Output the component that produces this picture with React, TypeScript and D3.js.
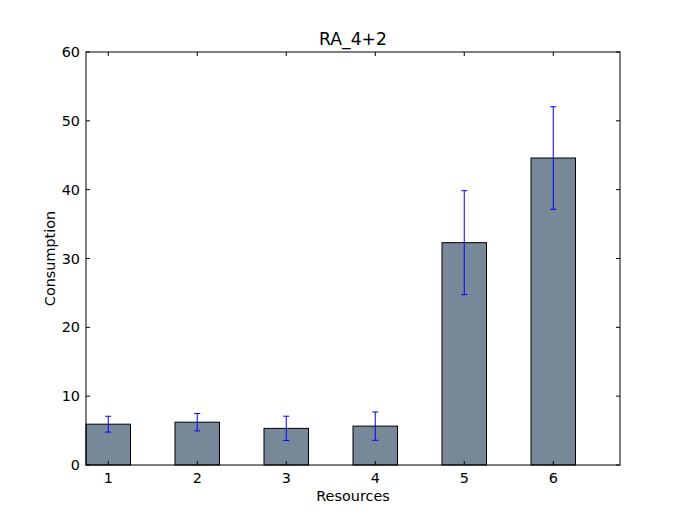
import React from "react";
import * as d3 from "d3";

const categories = [1, 2, 3, 4, 5, 6];
const values = [5.93, 6.22, 5.32, 5.65, 32.3, 44.6];
const errors = [1.15, 1.26, 1.77, 2.06, 7.55, 7.45];
const yTicks = [0, 10, 20, 30, 40, 50, 60];

const W = 689;
const H = 517;
const margin = { left: 86, right: 69, top: 52, bottom: 52 };
const font = "DejaVu Sans, sans-serif";

export default function App() {
  const x = d3
    .scaleLinear()
    .domain([0.75, 6.75])
    .range([margin.left, W - margin.right]);
  const y = d3
    .scaleLinear()
    .domain([0, 60])
    .range([H - margin.bottom, margin.top]);

  const barW = 0.5;
  const cap = 3;
  const tick = 4;
  const [x0, x1] = x.range();
  const [y0, y1] = y.range();

  return (
    <div style={{ position: "fixed", left: 0, top: 0 }}>
      <svg width={W} height={H} style={{ display: "block", background: "#fff" }}>
        {categories.map((c, i) => (
          <rect
            key={c}
            x={x(c - barW / 2)}
            y={y(values[i])}
            width={x(c + barW / 2) - x(c - barW / 2)}
            height={y(0) - y(values[i])}
            fill="#778899"
            stroke="#000"
            strokeWidth={1}
          />
        ))}
        {categories.map((c, i) => {
          const cx = x(c);
          const top = y(values[i] + errors[i]);
          const bot = y(values[i] - errors[i]);
          return (
            <g key={c} stroke="#0000ff" strokeWidth={1}>
              <line x1={cx} x2={cx} y1={top} y2={bot} />
              <line x1={cx - cap} x2={cx + cap} y1={top} y2={top} />
              <line x1={cx - cap} x2={cx + cap} y1={bot} y2={bot} />
            </g>
          );
        })}
        <rect
          x={x0}
          y={y1}
          width={x1 - x0}
          height={y0 - y1}
          fill="none"
          stroke="#000"
          strokeWidth={1}
        />
        {yTicks.map((t) => (
          <g key={t}>
            <line x1={x0} x2={x0 + tick} y1={y(t)} y2={y(t)} stroke="#000" />
            <line x1={x1} x2={x1 - tick} y1={y(t)} y2={y(t)} stroke="#000" />
            <text
              x={x0 - 6}
              y={y(t)}
              textAnchor="end"
              dominantBaseline="central"
              fontFamily={font}
              fontSize={14.4}
            >
              {t}
            </text>
          </g>
        ))}
        {categories.map((c) => (
          <g key={c}>
            <line x1={x(c)} x2={x(c)} y1={y0} y2={y0 - tick} stroke="#000" />
            <line x1={x(c)} x2={x(c)} y1={y1} y2={y1 + tick} stroke="#000" />
            <text
              x={x(c)}
              y={y0 + 18}
              textAnchor="middle"
              fontFamily={font}
              fontSize={14.4}
            >
              {c}
            </text>
          </g>
        ))}
        <text
          x={(x0 + x1) / 2}
          y={y1 - 7}
          textAnchor="middle"
          fontFamily={font}
          fontSize={17.2}
        >
          RA_4+2
        </text>
        <text
          x={(x0 + x1) / 2}
          y={y0 + 36}
          textAnchor="middle"
          fontFamily={font}
          fontSize={14.4}
        >
          Resources
        </text>
        <text
          transform={`translate(${x0 - 31},${(y0 + y1) / 2}) rotate(-90)`}
          textAnchor="middle"
          fontFamily={font}
          fontSize={14.4}
        >
          Consumption
        </text>
      </svg>
    </div>
  );
}
